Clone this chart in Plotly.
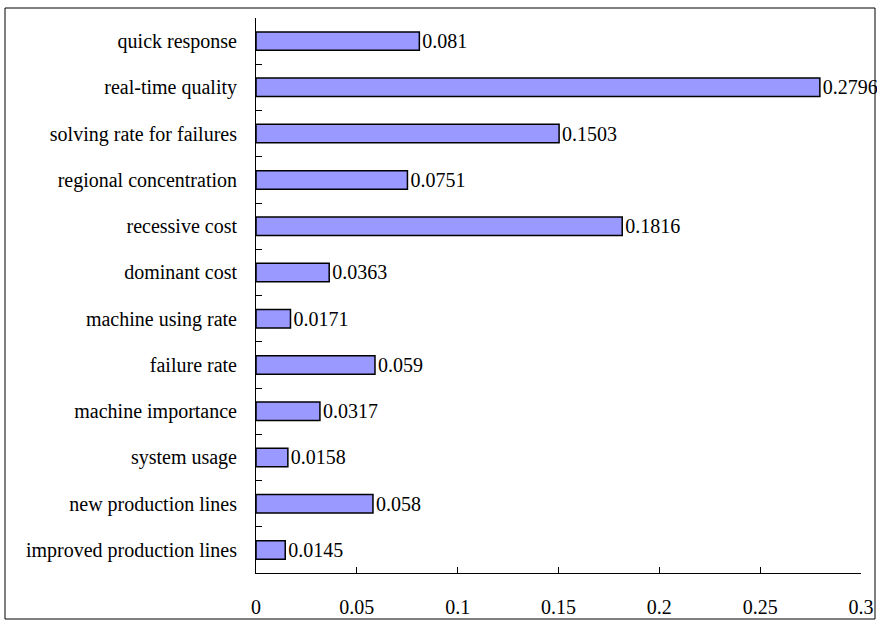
import plotly.graph_objects as go

categories = ["improved production lines", "new production lines", "system usage",
              "machine importance", "failure rate", "machine using rate", "dominant cost",
              "recessive cost", "regional concentration", "solving rate for failures",
              "real-time quality", "quick response"]
values = [0.0145, 0.058, 0.0158, 0.0317, 0.059, 0.0171, 0.0363, 0.1816, 0.0751, 0.1503, 0.2796, 0.081]
labels = ["0.0145", "0.058", "0.0158", "0.0317", "0.059", "0.0171", "0.0363", "0.1816",
          "0.0751", "0.1503", "0.2796", "0.081"]
x_ticks = [0, 0.05, 0.1, 0.15, 0.2, 0.25, 0.3]
x_ticktext = ["0", "0.05", "0.1", "0.15", "0.2", "0.25", "0.3"]

FONT = "Liberation Serif"
FS = 20

fig = go.Figure(go.Bar(
    y=categories, x=values, orientation="h",
    marker=dict(color="#9999FF", line=dict(color="black", width=1.5)),
    text=labels, textposition="outside", cliponaxis=False, constraintext="none",
    textfont=dict(family=FONT, size=FS, color="black"),
))

L, R, T, B = 256, 861, 18, 573
W, H = 877, 621
pw, ph = R - L, B - T

fig.update_layout(
    width=W, height=H,
    margin=dict(l=L, r=W - R, t=T, b=H - B, autoexpand=False),
    plot_bgcolor="white", paper_bgcolor="white",
    bargap=0.6, showlegend=False,
    font=dict(family=FONT, size=FS, color="black"),
    xaxis=dict(range=[0, 0.3], tickvals=x_ticks, ticktext=x_ticktext, automargin=False,
               showgrid=False, zeroline=False, showline=True, linecolor="black", linewidth=1,
               ticks="inside", ticklen=6, tickcolor="black", ticklabelstandoff=16),
    yaxis=dict(range=[-0.5, 11.5], showgrid=False, zeroline=False, showline=True, automargin=False,
               linecolor="black", linewidth=1, ticks="inside", ticklen=6, tickcolor="black",
               tickson="boundaries", ticklabelstandoff=14),
    shapes=[dict(type="rect", xref="paper", yref="paper",
                 x0=(5 - L) / pw, x1=(875 - L) / pw,
                 y0=(B - 619) / ph, y1=(B - 8) / ph,
                 line=dict(color="black", width=1))],
)

fig.write_html("out.html")
